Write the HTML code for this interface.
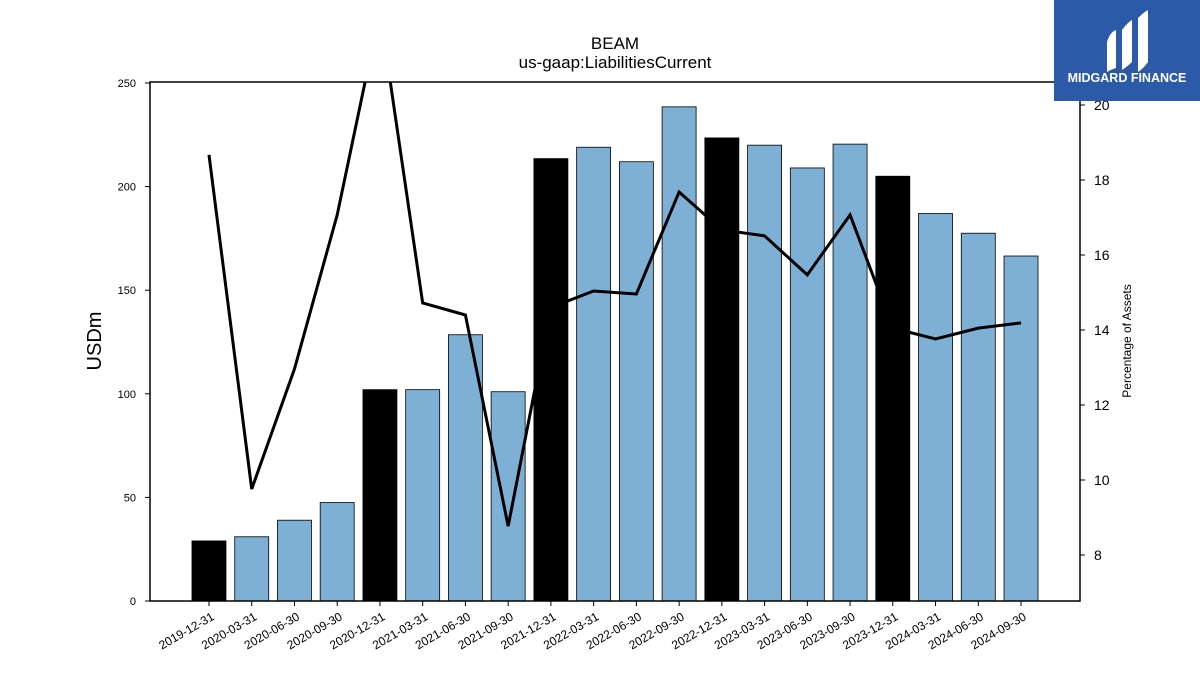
<!DOCTYPE html>
<html><head><meta charset="utf-8"><style>
body{margin:0;background:#fff;}
svg{display:block;font-family:"Liberation Sans","DejaVu Sans",sans-serif;}
</style></head><body>
<svg id="chart" width="1200" height="675">
<text x="615" y="49" text-anchor="middle" font-size="17">BEAM</text>
<text x="615" y="68" text-anchor="middle" font-size="17">us-gaap:LiabilitiesCurrent</text>
<text transform="translate(101,341) rotate(-90)" text-anchor="middle" font-size="20">USDm</text>
<text transform="translate(1131,341) rotate(-90)" text-anchor="middle" font-size="12">Percentage of Assets</text>
<g id="bars"></g>
<g id="line"></g>
<rect x="150" y="82" width="930" height="519" fill="none" stroke="#000" stroke-width="1.5"/>
<g id="axes"></g>
<g>
<rect x="1054" y="0" width="146" height="101" fill="#2d5aa8"/>
<path d="M1107 42 Q1110 32 1116 30 L1116 68 Q1110 70 1107 72 Z" fill="#fff"/>
<path d="M1122 30 Q1128 22 1132 20 L1132 62 Q1128 66 1122 70 Z" fill="#fff"/>
<path d="M1138 18 Q1144 12 1148 10 L1148 62 Q1144 68 1138 72 Z" fill="#fff"/>
<text x="1127" y="82" text-anchor="middle" font-size="12.5" font-weight="bold" fill="#fff">MIDGARD FINANCE</text>
</g>
</svg>
<script>
const categories=["2019-12-31","2020-03-31","2020-06-30","2020-09-30","2020-12-31","2021-03-31","2021-06-30","2021-09-30","2021-12-31","2022-03-31","2022-06-30","2022-09-30","2022-12-31","2023-03-31","2023-06-30","2023-09-30","2023-12-31","2024-03-31","2024-06-30","2024-09-30"];
const liabilities=[29,31,39,47.5,102,102,128.5,101,213.5,219,212,238.5,223.5,220,209,220.5,205,187,177.5,166.5];
const pctAssets=[18.67,9.76,12.96,17.07,22.5,14.72,14.4,8.77,14.6,15.04,14.96,17.68,16.67,16.51,15.47,17.07,14.05,13.76,14.05,14.19];
const leftTicks=[0,50,100,150,200,250];
const rightTicks=[8,10,12,14,16,18,20];
const NS="http://www.w3.org/2000/svg";
const X0=150,X1=1080,Y0=601,Y1=82;
const xmin=-1.38,xmax=20.38;
const x=i=>X0+(i-xmin)/(xmax-xmin)*(X1-X0);
const y=v=>Y0-v/250*(Y0-83);
const y2=v=>555-(v-8)*37.5;
function mk(tag,attrs,parent){const e=document.createElementNS(NS,tag);for(const k in attrs)e.setAttribute(k,attrs[k]);parent.appendChild(e);return e;}
const bars=document.getElementById('bars'),axes=document.getElementById('axes'),lineG=document.getElementById('line');
const bw=34;
liabilities.forEach((v,i)=>{
  const r=mk('rect',{x:x(i)-bw/2,y:y(v),width:bw,height:y(0)-y(v),fill:(i%4===0)?'#000':'#7eb0d5',stroke:'#000','stroke-width':0.8},bars);
  
  
  const t=mk('line',{x1:x(i),x2:x(i),y1:Y0,y2:Y0+5,stroke:'#000'},axes);
  const l=mk('text',{transform:`translate(${x(i)+6},${Y0+18}) rotate(-30)`,'text-anchor':'end','font-size':12},axes);
  l.textContent=categories[i];
  
  
});
leftTicks.forEach(v=>{
  mk('line',{x1:X0-5,x2:X0,y1:y(v),y2:y(v),stroke:'#000'},axes);
  const t=mk('text',{x:X0-14,y:y(v)+4,'text-anchor':'end','font-size':11},axes);
  t.textContent=v;
  
  
});
rightTicks.forEach(v=>{
  mk('line',{x1:X1,x2:X1+5,y1:y2(v),y2:y2(v),stroke:'#000'},axes);
  const t=mk('text',{x:X1+14,y:y2(v)+5,'font-size':14},axes);
  t.textContent=v;
  
  
});
mk('clipPath',{id:'clip'},lineG).appendChild(Object.assign(document.createElementNS(NS,'rect'),{}));
const cr=lineG.querySelector('clipPath rect');cr.setAttribute('x',X0);cr.setAttribute('y',Y1);cr.setAttribute('width',X1-X0);cr.setAttribute('height',Y0-Y1);
const p=mk('polyline',{points:pctAssets.map((v,i)=>x(i)+','+y2(v)).join(' '),fill:'none',stroke:'#000','stroke-width':3,'clip-path':'url(#clip)'},lineG);


</script>
</body></html>
